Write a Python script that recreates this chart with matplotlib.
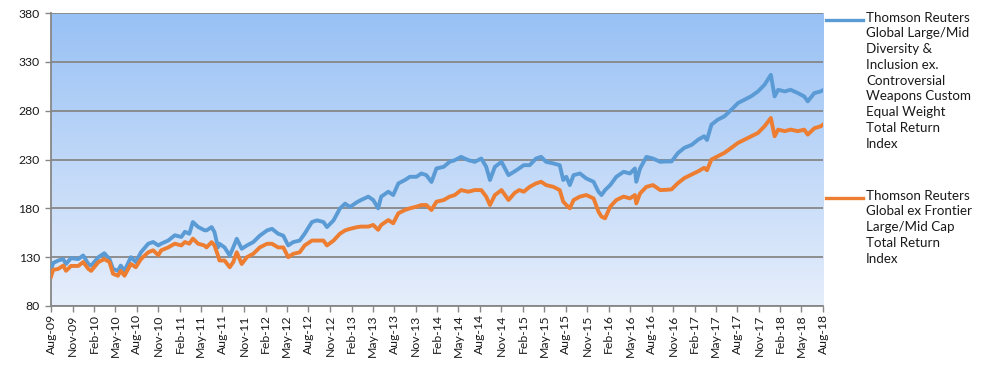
import numpy as np
import pandas as pd
import matplotlib
matplotlib.use("Agg")
import matplotlib.pyplot as plt
import matplotlib.dates as mdates
from matplotlib.lines import Line2D

plt.rcParams["font.family"] = ["Lato", "DejaVu Sans"]

# ---------------- data ----------------
DATES = [
    "2009-08-01", "2009-08-10", "2009-09-01", "2009-09-22", "2009-10-04", "2009-10-25", "2009-11-25",
    "2009-12-16", "2010-01-07", "2010-01-19", "2010-02-19", "2010-03-16", "2010-04-07", "2010-04-22",
    "2010-05-13", "2010-05-25", "2010-06-10", "2010-07-07", "2010-07-28", "2010-08-19", "2010-09-19",
    "2010-10-10", "2010-11-01", "2010-11-13", "2010-12-13", "2011-01-10", "2011-02-07", "2011-02-22",
    "2011-03-13", "2011-03-28", "2011-04-19", "2011-05-16", "2011-05-25", "2011-06-16", "2011-06-28",
    "2011-07-13", "2011-07-19", "2011-08-10", "2011-09-01", "2011-09-16", "2011-10-01", "2011-10-22",
    "2011-11-13", "2011-12-10", "2012-01-07", "2012-02-07", "2012-02-28", "2012-03-25", "2012-04-16",
    "2012-05-07", "2012-05-28", "2012-06-25", "2012-07-16", "2012-08-16", "2012-09-07", "2012-10-04",
    "2012-10-19", "2012-11-16", "2012-12-13", "2013-01-04", "2013-01-25", "2013-02-25", "2013-03-13",
    "2013-04-13", "2013-05-04", "2013-05-25", "2013-06-07", "2013-07-07", "2013-07-28", "2013-08-19",
    "2013-09-16", "2013-10-07", "2013-11-04", "2013-11-25", "2013-12-16", "2014-01-07", "2014-01-28",
    "2014-02-28", "2014-03-25", "2014-04-16", "2014-05-13", "2014-06-13", "2014-07-10", "2014-08-07",
    "2014-08-28", "2014-09-13", "2014-10-04", "2014-11-01", "2014-12-01", "2014-12-28", "2015-01-16",
    "2015-02-04", "2015-03-01", "2015-03-28", "2015-04-19", "2015-05-10", "2015-06-10", "2015-07-07",
    "2015-07-22", "2015-08-04", "2015-08-19", "2015-09-04", "2015-10-01", "2015-10-28", "2015-11-28",
    "2015-12-19", "2016-01-01", "2016-01-16", "2016-02-07", "2016-03-04", "2016-04-04", "2016-05-01",
    "2016-05-22", "2016-05-28", "2016-06-13", "2016-07-10", "2016-08-07", "2016-09-07", "2016-10-04",
    "2016-10-25", "2016-11-22", "2016-12-19", "2017-01-19", "2017-02-16", "2017-03-13", "2017-03-25",
    "2017-04-13", "2017-05-10", "2017-06-07", "2017-07-07", "2017-08-04", "2017-09-01", "2017-09-28",
    "2017-10-28", "2017-11-25", "2017-12-22", "2018-01-07", "2018-01-22", "2018-02-19", "2018-03-16",
    "2018-04-16", "2018-05-13", "2018-05-28", "2018-06-25", "2018-07-22", "2018-08-01",
]

DIVERSITY = [
    117, 124, 126.6, 128, 123, 129, 128,
    131.7, 123, 121.4, 130, 134, 128, 118,
    116, 121.4, 116, 130, 125, 135, 143.8,
    145.5, 142, 143.8, 147, 152.4, 150.7, 156,
    154, 166, 161, 157.6, 157.4, 160.8, 155.7,
    140, 143.7, 140, 131.7, 140, 148.8, 138.6,
    142, 145.4, 152, 157.4, 159, 154, 152,
    142, 145.4, 147, 154, 166, 167.7, 166,
    160.8, 167.7, 179.7, 184.8, 181.4, 186.5, 188.5,
    192, 188.5, 180, 192, 197, 193.6, 205.5,
    209, 212.3, 212.3, 215.7, 214, 207, 220.8,
    222.5, 227.6, 229.3, 232.7, 229.3, 227.6, 231,
    222.5, 209, 222.5, 227.6, 214, 218, 221,
    224.2, 224.2, 231, 232.7, 227.6, 226, 224.2,
    209, 212.3, 203.8, 214, 215.7, 210.6, 207.2,
    197, 193.6, 198.7, 203.8, 212.3, 217.4, 215.7,
    220.8, 207.2, 220.8, 232.7, 231, 227.6, 228,
    228, 236.8, 242, 245, 250.4, 253.8, 250,
    265.7, 270.8, 274.2, 281, 287.8, 291.2, 294.6,
    299.7, 306.5, 316.7, 294.6, 301.4, 299.7, 301.4,
    298, 294.6, 289.5, 298, 299.7, 301,
]

FRONTIER = [
    110, 117, 118, 121.4, 116, 121, 121,
    125, 118, 116, 125, 128, 125, 113,
    111, 116, 111, 123, 119.7, 128, 135,
    137, 132, 137, 140, 143.8, 142, 145.5,
    143.8, 149, 143.8, 142, 140, 145.4, 142,
    131.7, 126.6, 126.6, 119.7, 125, 135, 123,
    130, 133.4, 140, 143.7, 143.7, 140, 140,
    130, 133.4, 135, 142, 147, 147, 147,
    142, 147, 154, 157.4, 159, 160.8, 161.3,
    161.3, 163, 158, 163, 168, 164.7, 175,
    178.3, 180, 181.7, 183.4, 183.4, 178.3, 186.8,
    188.5, 192, 193.6, 198.7, 197, 198.7, 198.7,
    192, 183.4, 193.6, 198.7, 188.5, 196, 198.7,
    197, 202, 205.5, 207.2, 203.8, 202, 198.7,
    186.8, 183.4, 180, 188.5, 192, 193.6, 190.2,
    176.6, 171.5, 169.8, 181.7, 188.5, 192, 190.2,
    193.6, 185, 195.3, 202, 203.8, 198.7, 199,
    199.4, 206, 211, 214.7, 218, 221.5, 219,
    230, 233.4, 236.8, 242, 247, 250.4, 253.8,
    257.2, 264, 272.5, 253.8, 260.6, 259, 260.6,
    259, 260.6, 255.5, 262, 264, 265.7,
]

SERIES_NAMES = [
    "Thomson Reuters\nGlobal Large/Mid\nDiversity &\nInclusion ex.\nControversial\n"
    "Weapons Custom\nEqual Weight\nTotal Return\nIndex",
    "Thomson Reuters\nGlobal ex Frontier\nLarge/Mid Cap\nTotal Return\nIndex",
]

BLUE = "#5B9BD5"
ORANGE = "#ED7D31"
GRID = "#878787"

dates = pd.to_datetime(DATES)

# ---------------- chart ----------------
fig = plt.figure(figsize=(9.88, 3.73), dpi=100)
ax = fig.add_axes([51 / 988, 1 - 306 / 373, (823 - 51) / 988, (306 - 13) / 373])

# vertical gradient background (dark blue top -> pale bottom)
top = np.array([152, 193, 245]) / 255
bot = np.array([230, 238, 251]) / 255
t = np.linspace(0, 1, 256)[:, None]
grad = (top * (1 - t) + bot * t).reshape(256, 1, 3)
ax.imshow(grad, extent=[0, 1, 0, 1], transform=ax.transAxes, aspect="auto", zorder=0)

ax.plot(dates, DIVERSITY, color=BLUE, lw=2.8, zorder=3, solid_joinstyle="round")
ax.plot(dates, FRONTIER, color=ORANGE, lw=2.8, zorder=3, solid_joinstyle="round")

ax.set_ylim(80, 380)
ax.set_yticks(np.arange(80, 381, 50))
ax.set_xlim(pd.Timestamp("2009-08-01"), pd.Timestamp("2018-08-01"))
ax.xaxis.set_major_locator(mdates.MonthLocator(bymonth=[2, 5, 8, 11], bymonthday=1))
ax.xaxis.set_major_formatter(mdates.DateFormatter("%b-%y"))

ax.grid(axis="y", color=GRID, lw=1.3, zorder=1)
ax.set_axisbelow(False)
for s in ["top", "right"]:
    ax.spines[s].set_visible(False)
for s in ["left", "bottom"]:
    ax.spines[s].set_color(GRID)
    ax.spines[s].set_linewidth(1.3)
ax.tick_params(axis="both", colors=GRID, length=4, width=1, labelsize=8.8, labelcolor="#1a1a1a")
ax.tick_params(axis="x", rotation=90, pad=2)
ax.tick_params(axis="y", pad=4)

# legend to the right, handle aligned with first line of each label
for name, col, ytop in zip(SERIES_NAMES, [BLUE, ORANGE], [1 - 20 / 373, 1 - 198 / 373]):
    fig.add_artist(Line2D([826 / 988, 863 / 988], [ytop, ytop], color=col, lw=2.4))
    fig.text(866 / 988, ytop + 8.5 / 373, name, ha="left", va="top", fontsize=9.6,
             linespacing=1.38, color="#1a1a1a")

fig.savefig("out.png", dpi=100)
